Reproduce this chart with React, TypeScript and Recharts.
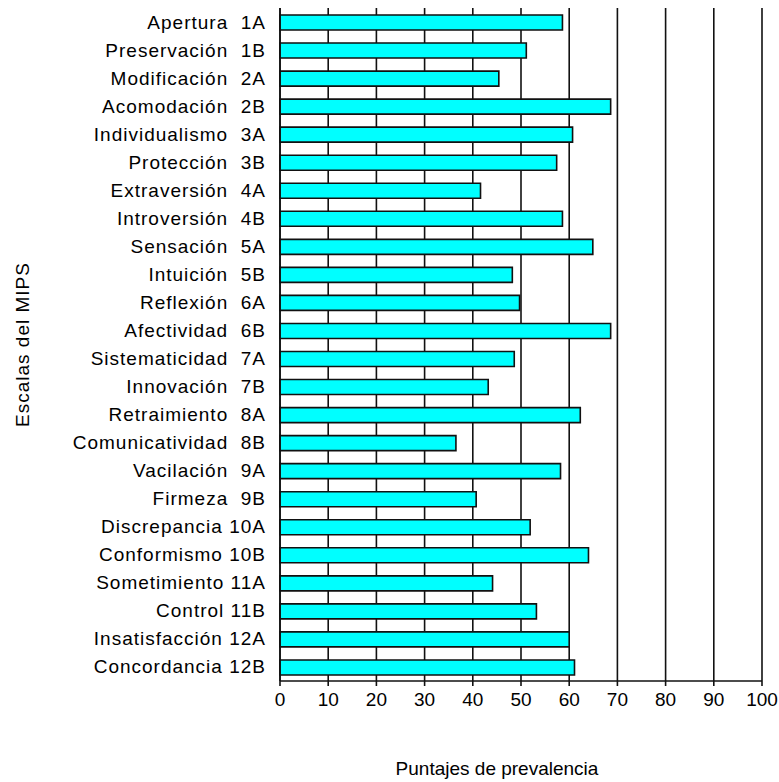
import { BarChart, Bar, XAxis, YAxis, CartesianGrid } from 'recharts';

// Escalas del MIPS, de arriba hacia abajo
const escalas = [
  'Apertura  1A',
  'Preservación  1B',
  'Modificación  2A',
  'Acomodación  2B',
  'Individualismo  3A',
  'Protección  3B',
  'Extraversión  4A',
  'Introversión  4B',
  'Sensación  5A',
  'Intuición  5B',
  'Reflexión  6A',
  'Afectividad  6B',
  'Sistematicidad  7A',
  'Innovación  7B',
  'Retraimiento  8A',
  'Comunicatividad  8B',
  'Vacilación  9A',
  'Firmeza  9B',
  'Discrepancia 10A',
  'Conformismo 10B',
  'Sometimiento 11A',
  'Control 11B',
  'Insatisfacción 12A',
  'Concordancia 12B',
];

const puntajes = [
  58.6, 51.1, 45.4, 68.6, 60.7, 57.4, 41.6, 58.6, 64.9, 48.2, 49.7, 68.6,
  48.6, 43.2, 62.3, 36.5, 58.2, 40.7, 51.9, 64.0, 44.1, 53.2, 60.0, 61.1,
];

const xTicks = [0, 10, 20, 30, 40, 50, 60, 70, 80, 90, 100];

const data = escalas.map((name, i) => ({ name, value: puntajes[i] }));

const FONT = '"Liberation Sans", Arial, sans-serif';
const LINE = '#111';

const ScaleTick = ({ x, y, payload }: any) => (
  <text
    x={x}
    y={y}
    textAnchor="end"
    dominantBaseline="central"
    fill="#000"
    fontSize={19}
    fontFamily={FONT}
    letterSpacing={1}
    style={{ whiteSpace: 'pre' }}
  >
    {payload.value}
  </text>
);

export default function App() {
  return (
    <div style={{ position: 'absolute', left: 0, top: 0, background: '#fff' }}>
      <BarChart
        width={779}
        height={782}
        data={data}
        layout="vertical"
        margin={{ top: 8, right: 17, bottom: 71, left: 0 }}
      >
        <CartesianGrid
          xAxisId="bottom"
          horizontal={false}
          stroke={LINE}
          strokeWidth={1.6}
        />
        <XAxis
          xAxisId="bottom"
          type="number"
          domain={[0, 100]}
          ticks={xTicks}
          interval={0}
          height={30}
          tickSize={5}
          tickMargin={7}
          axisLine={{ stroke: LINE, strokeWidth: 1.6 }}
          tickLine={{ stroke: LINE, strokeWidth: 1.6 }}
          tick={{ fontSize: 19, fill: '#000', fontFamily: FONT }}
          label={{
            content: ({ viewBox }: any) => (
              <text
                x={viewBox.x + viewBox.width / 2 - 24}
                y={viewBox.y + 87}
                textAnchor="middle"
                dominantBaseline="central"
                fontSize={19}
                fontFamily={FONT}
                fill="#000"
              >
                Puntajes de prevalencia
              </text>
            ),
          }}
        />
        <XAxis
          xAxisId="top"
          orientation="top"
          type="number"
          domain={[0, 100]}
          height={0}
          tick={false}
          tickLine={false}
          axisLine={{ stroke: LINE, strokeWidth: 1.6 }}
        />
        <YAxis
          type="category"
          dataKey="name"
          width={280}
          interval={0}
          tickSize={0}
          tickMargin={14}
          tickLine={false}
          axisLine={{ stroke: LINE, strokeWidth: 1.6 }}
          tick={<ScaleTick />}
          label={{
            content: ({ viewBox }: any) => {
              const cx = 22;
              const cy = viewBox.y + viewBox.height / 2;
              return (
                <text
                  x={cx}
                  y={cy}
                  transform={`rotate(-90 ${cx} ${cy})`}
                  textAnchor="middle"
                  dominantBaseline="central"
                  fontSize={19}
                  fontFamily={FONT}
                  letterSpacing={1}
                  fill="#000"
                >
                  Escalas del MIPS
                </text>
              );
            },
          }}
        />
        <Bar
          xAxisId="bottom"
          dataKey="value"
          fill="#00FFFF"
          stroke={LINE}
          strokeWidth={1.6}
          barSize={15}
          isAnimationActive={false}
        />
      </BarChart>
    </div>
  );
}
